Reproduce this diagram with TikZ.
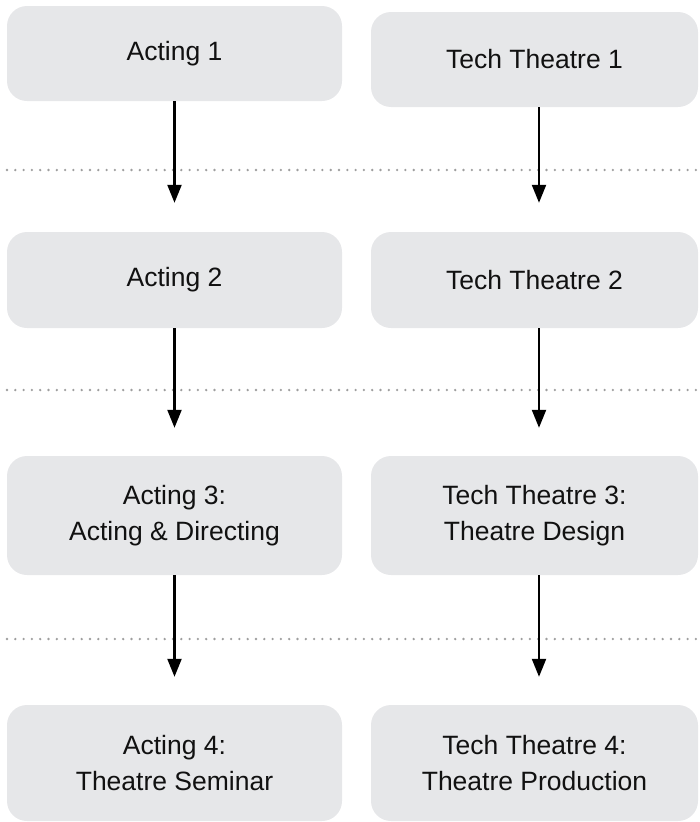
\documentclass[tikz,border=0pt]{standalone}
\usepackage{fontspec}
\setmainfont{Liberation Sans}
\usetikzlibrary{arrows.meta}
\definecolor{boxgray}{HTML}{E6E7E9}
\definecolor{dotgray}{HTML}{9E9E9E}
\definecolor{txt}{HTML}{111111}
\begin{document}
\begin{tikzpicture}[x=1pt,y=-1pt,
  course/.style={fill=boxgray, rounded corners=20pt, inner sep=0pt, text=txt,
    font=\fontsize{26.5}{36}\selectfont, align=center},
  arr/.style={line width=2.2pt, -{Triangle[length=18pt,width=14pt]}},
  sep/.style={dotgray, line width=2.6pt, line cap=round, dash pattern=on 0pt off 8.3pt}]
\useasboundingbox (0,0) rectangle (700,822);
% separators
\coordinate (s1a) at (7,170);  \coordinate (s1b) at (700,170);
\coordinate (s2a) at (7,390);  \coordinate (s2b) at (700,390);
\coordinate (s3a) at (7,639);  \coordinate (s3b) at (700,639);
\draw[sep] (s1a) -- (s1b);
\draw[sep] (s2a) -- (s2b);
\draw[sep] (s3a) -- (s3b);
% boxes
\node[course, minimum width=335pt, minimum height=95pt] (A1) at (174.5,53.5) {Acting 1};
\node[course, minimum width=327pt, minimum height=95pt] (T1) at (534.5,59.5) {Tech Theatre 1};
\node[course, minimum width=335pt, minimum height=96pt] (A2) at (174.5,280) {Acting 2};
\node[course, minimum width=327pt, minimum height=96pt] (T2) at (534.5,280) {Tech Theatre 2};
\node[course, minimum width=335pt, minimum height=119pt] (A3) at (174.5,515.5) {Acting 3:\\Acting \& Directing};
\node[course, minimum width=327pt, minimum height=119pt] (T3) at (534.5,515.5) {Tech Theatre 3:\\Theatre Design};
\node[course, minimum width=335pt, minimum height=116pt] (A4) at (174.5,763) {Acting 4:\\Theatre Seminar};
\node[course, minimum width=327pt, minimum height=116pt] (T4) at (534.5,763) {Tech Theatre 4:\\Theatre Production};
% arrows
\draw[arr, shorten >=29pt] (A1.south) -- (A2.north);
\draw[arr, shorten >=29pt] ([xshift=4.5pt]T1.south) -- ([xshift=4.5pt]T2.north);
\draw[arr, shorten >=28pt] (A2.south) -- (A3.north);
\draw[arr, shorten >=28pt] ([xshift=4.5pt]T2.south) -- ([xshift=4.5pt]T3.north);
\draw[arr, shorten >=28pt] (A3.south) -- (A4.north);
\draw[arr, shorten >=28pt] ([xshift=4.5pt]T3.south) -- ([xshift=4.5pt]T4.north);
\end{tikzpicture}
\end{document}
